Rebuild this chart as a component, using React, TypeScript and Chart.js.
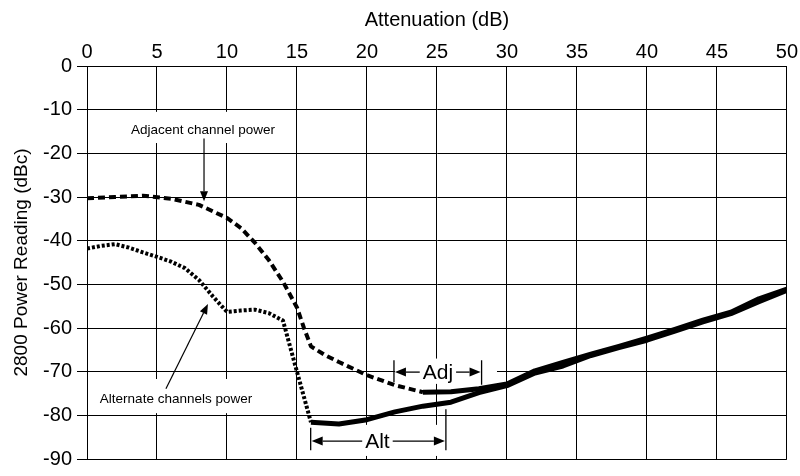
import React, { useEffect, useRef } from "react";
import { Chart, registerables } from "chart.js";

Chart.register(...registerables);

// ---- Data ----
const adjAtten = [0, 2, 4, 6, 8, 10, 11, 12, 13, 14, 15, 15.5, 16, 17, 18, 20, 22, 24, 26, 28, 30, 32, 34, 36, 38, 40, 42, 44, 46, 48, 50];
const adjPower = [-30.3, -30.0, -29.7, -30.4, -31.8, -34.8, -37.1, -40.5, -44.5, -49.4, -55.3, -60.0, -64.2, -66.2, -67.8, -70.8, -73.1, -74.7, -74.6, -73.9, -72.8, -69.8, -67.9, -66.0, -64.2, -62.3, -60.3, -58.2, -56.4, -53.3, -51.1];

const altAtten = [0, 1, 2, 3, 4, 5, 6, 7, 8, 9, 10, 11, 12, 13, 14, 15, 16, 18, 20, 22, 24, 26, 28, 30, 32, 34, 36, 38, 40, 42, 44, 46, 48, 50];
const altPower = [-41.8, -41.2, -40.8, -41.6, -42.7, -43.7, -44.8, -46.3, -49.0, -52.8, -56.3, -56.0, -55.8, -56.6, -58.3, -70.0, -81.6, -82.0, -81.0, -79.2, -77.9, -77.0, -74.8, -73.2, -70.3, -68.7, -66.3, -64.5, -62.8, -60.7, -58.6, -56.7, -54.0, -51.4];

const adjDashedUntil = 24; // adjacent curve drawn dashed up to this attenuation
const altDottedUntil = 16; // alternate curve drawn dotted up to this attenuation

const xMin = 0, xMax = 50, xStep = 5;
const yMin = -90, yMax = 0, yStep = 10;

const xTitle = "Attenuation (dB)";
const yTitle = "2800 Power Reading (dBc)";

const FONT = "'Liberation Sans', Arial, Helvetica, sans-serif";

// ---- Annotations (data units) ----
const adjacentLabel = { text: "Adjacent channel power", x: 8.29, y: -14.7, box: [2.93, -10.5, 13.79, -17.64], arrow: [8.36, -16.6, 8.36, -31.0] };
const alternateLabel = { text: "Alternate channels power", x: 6.36, y: -76.4, box: [0.79, -71.68, 11.93, -79.5], arrow: [5.64, -73.9, 8.64, -54.5] };
const adjBracket = { text: "Adj", cx: 25.07, y: -70.1, left: 21.93, right: 28.19, leftBar: [-67.4, -72.4], rightBar: [-67.4, -73.0], box: [22.0, -67.0, 29.29, -72.8] };
const altBracket = { text: "Alt", cx: 20.75, y: -85.9, left: 15.98, right: 25.64, leftBar: [-82.85, -88.0], rightBar: [-78.6, -88.0], box: [19.21, -82.18, 25.29, -89.3] };

function drawArrow(ctx: CanvasRenderingContext2D, x1: number, y1: number, x2: number, y2: number, len: number, half: number) {
  const ang = Math.atan2(y2 - y1, x2 - x1);
  const bx = x2 - len * Math.cos(ang);
  const by = y2 - len * Math.sin(ang);
  ctx.beginPath();
  ctx.moveTo(x1, y1);
  ctx.lineTo(bx, by);
  ctx.stroke();
  ctx.beginPath();
  ctx.moveTo(x2, y2);
  ctx.lineTo(bx + half * Math.sin(ang), by - half * Math.cos(ang));
  ctx.lineTo(bx - half * Math.sin(ang), by + half * Math.cos(ang));
  ctx.closePath();
  ctx.fill();
}

const annotationPlugin = {
  id: "annotations",
  beforeDatasetsDraw(chart: any) {
    const ctx: CanvasRenderingContext2D = chart.ctx;
    const xs = chart.scales.x;
    const ys = chart.scales.y;
    const px = (v: number) => xs.getPixelForValue(v);
    const py = (v: number) => ys.getPixelForValue(v);
    ctx.save();
    // white boxes that hide grid lines behind the labels
    ctx.fillStyle = "#fff";
    [adjacentLabel.box, alternateLabel.box, adjBracket.box, altBracket.box].forEach((b) => {
      const x1 = px(b[0]), y1 = py(b[1]), x2 = px(b[2]), y2 = py(b[3]);
      ctx.fillRect(Math.min(x1, x2), Math.min(y1, y2), Math.abs(x2 - x1), Math.abs(y2 - y1));
    });

    ctx.fillStyle = "#000";
    ctx.strokeStyle = "#000";
    ctx.lineWidth = 1.2;
    ctx.textAlign = "center";
    ctx.textBaseline = "middle";

    // callout labels
    ctx.font = `13.5px ${FONT}`;
    [adjacentLabel, alternateLabel].forEach((l) => {
      ctx.fillText(l.text, px(l.x), py(l.y));
      drawArrow(ctx, px(l.arrow[0]), py(l.arrow[1]), px(l.arrow[2]), py(l.arrow[3]), 10, 4);
    });

    // brackets
    ctx.font = `21px ${FONT}`;
    [adjBracket, altBracket].forEach((b) => {
      const cx = px(b.cx), cy = py(b.y);
      const w = ctx.measureText(b.text).width;
      ctx.fillText(b.text, cx, cy + 1);
      const lx = px(b.left), rx = px(b.right);
      ctx.lineWidth = 1.3;
      ctx.beginPath();
      ctx.moveTo(lx, py(b.leftBar[0]));
      ctx.lineTo(lx, py(b.leftBar[1]));
      ctx.moveTo(rx, py(b.rightBar[0]));
      ctx.lineTo(rx, py(b.rightBar[1]));
      ctx.stroke();
      drawArrow(ctx, cx - w / 2 - 3, cy, lx + 1, cy, 11, 4.5);
      drawArrow(ctx, cx + w / 2 + 3, cy, rx - 1, cy, 11, 4.5);
    });
    ctx.restore();
  },
};

export default function App() {
  const canvasRef = useRef<HTMLCanvasElement | null>(null);

  useEffect(() => {
    if (!canvasRef.current) return;
    const chart = new Chart(canvasRef.current, {
      type: "line",
      data: {
        datasets: [
          {
            label: "Adjacent channel power",
            data: adjAtten.map((x, i) => ({ x, y: adjPower[i] })),
            borderColor: "#000",
            borderWidth: 5,
            pointRadius: 0,
            tension: 0,
            borderCapStyle: "butt",
            borderJoinStyle: "round",
            segment: {
              borderDash: (c: any) => (c.p1.parsed.x <= adjDashedUntil ? [7, 4] : undefined),
              borderWidth: (c: any) => (c.p1.parsed.x <= adjDashedUntil ? 4 : undefined),
            },
          },
          {
            label: "Alternate channels power",
            data: altAtten.map((x, i) => ({ x, y: altPower[i] })),
            borderColor: "#000",
            borderWidth: 5,
            pointRadius: 0,
            tension: 0,
            borderCapStyle: "butt",
            borderJoinStyle: "round",
            segment: {
              borderDash: (c: any) => (c.p1.parsed.x <= altDottedUntil ? [3, 2] : undefined),
              borderWidth: (c: any) => (c.p1.parsed.x <= altDottedUntil ? 4 : undefined),
            },
          },
        ],
      },
      options: {
        animation: false,
        responsive: true,
        maintainAspectRatio: false,
        layout: { padding: { left: 0, right: 13, top: 0, bottom: 7 } },
        plugins: { legend: { display: false }, tooltip: { enabled: false } },
        scales: {
          x: {
            type: "linear",
            position: "top",
            min: xMin,
            max: xMax,
            ticks: { stepSize: xStep, color: "#000", font: { family: FONT, size: 20 }, padding: 2, maxRotation: 0 },
            grid: { color: "#000", lineWidth: 1, drawTicks: false },
            border: { color: "#000", width: 1 },
            title: { display: true, text: xTitle, color: "#000", font: { family: FONT, size: 20 }, padding: { top: 8, bottom: 0 } },
            afterFit: (s: any) => { s.height = 66; },
          },
          y: {
            type: "linear",
            min: yMin,
            max: yMax,
            ticks: { stepSize: yStep, color: "#000", font: { family: FONT, size: 20 }, padding: 5 },
            grid: { color: "#000", lineWidth: 1, tickLength: 10 },
            border: { color: "#000", width: 1 },
            title: { display: true, text: yTitle, color: "#000", font: { family: FONT, size: 19 }, padding: { top: 10, bottom: 0 } },
            afterFit: (s: any) => { s.width = 87; },
          },
        },
      },
      plugins: [annotationPlugin],
    } as any);
    return () => chart.destroy();
  }, []);

  return (
    <div style={{ position: "fixed", left: 0, top: 0, width: 800, height: 476, background: "#fff" }}>
      <canvas ref={canvasRef} />
    </div>
  );
}
